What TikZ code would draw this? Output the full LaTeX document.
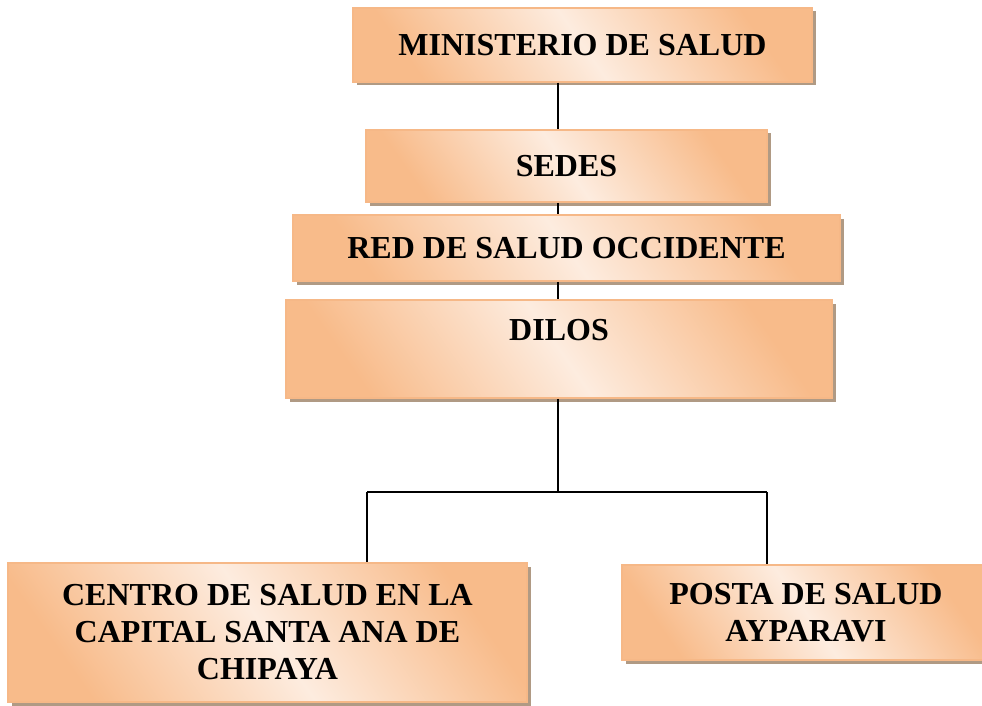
\documentclass[tikz,border=0pt]{standalone}
\usepackage{fontspec}
\setmainfont{Liberation Serif}
\usepackage{tikz}
\usetikzlibrary{shadows}
\definecolor{orgDark}{HTML}{F8BB8A}
\definecolor{orgLight}{HTML}{FDECDF}
\definecolor{orgEdge}{HTML}{F6B887}
\definecolor{shadowGrey}{HTML}{B09A84}
\tikzset{
  orgbox/.style={draw=orgEdge, line width=1.5pt, align=center, inner sep=4pt,
    top color=orgDark, bottom color=orgDark, middle color=orgLight, shading angle=125,
    drop shadow={shadow xshift=3.5pt, shadow yshift=-3.5pt, fill=shadowGrey, opacity=1},
    font=\fontsize{32}{37}\selectfont\bfseries},
  link/.style={line width=1.3pt, black},
}
\begin{document}
\begin{tikzpicture}[x=1pt, y=-1pt]
  \useasboundingbox (0,0) rectangle (982,706);
  \node[orgbox, minimum width=459pt, minimum height=74pt] (min) at (582.5,45) {MINISTERIO DE SALUD};
  \node[orgbox, minimum width=401pt, minimum height=72pt] (sedes) at (566.5,166) {SEDES};
  \node[orgbox, minimum width=547pt, minimum height=66pt] (red) at (566.5,248) {RED DE SALUD OCCIDENTE};
  \node[orgbox, minimum width=546pt, minimum height=98pt] (dilos) at (559,349) {DILOS\\[2pt]~};
  \node[orgbox, minimum width=519pt, minimum height=139pt] (centro) at (267.5,632.5)
    {CENTRO DE SALUD EN LA\\CAPITAL SANTA ANA DE\\CHIPAYA};
  \node[orgbox, minimum width=368pt, minimum height=95pt] (posta) at (806,612.5)
    {POSTA DE SALUD\\AYPARAVI};
  % connectors
  \coordinate (bus) at (558,492);
  \coordinate (busL) at (367,492);
  \coordinate (busR) at (767,492);
  \draw[link] (min.south -| bus) -- (sedes.north -| bus);
  \draw[link] (sedes.south -| bus) -- (red.north -| bus);
  \draw[link] (red.south -| bus) -- (dilos.north -| bus);
  \draw[link] (dilos.south -| bus) -- (bus);
  \draw[link] (busL) -- (busR);
  \draw[link] (busL) -- (busL |- centro.north);
  \draw[link] (busR) -- (busR |- posta.north);
\end{tikzpicture}
\end{document}
